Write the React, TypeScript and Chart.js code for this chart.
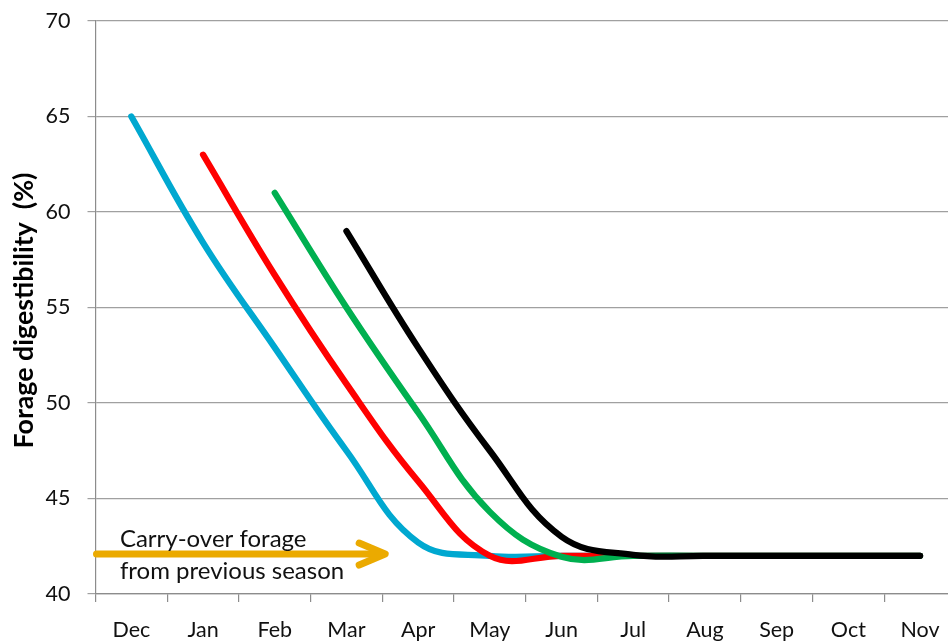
import React, { useEffect, useRef } from "react";
import { Chart, registerables } from "chart.js";

Chart.register(...registerables);

// Months (Dec .. Nov) — category labels for the x axis
const MONTHS = ["Dec", "Jan", "Feb", "Mar", "Apr", "May", "Jun", "Jul", "Aug", "Sep", "Oct", "Nov"];

// Forage digestibility (%) per month; null = series not yet started
const BLUE = [65, 58.4, 52.9, 47.5, 42.7, 42, 42, 42, 42, 42, 42, 42];
const RED = [null, 63, 56.7, 51.0, 45.9, 42.0, 42, 42, 42, 42, 42, 42];
const GREEN = [null, null, 61, 55, 49.5, 44.3, 41.95, 42, 42, 42, 42, 42];
const BLACK = [null, null, null, 59, 52.9, 47.5, 43.0, 42.05, 42, 42, 42, 42];

// Y axis ticks
const Y_MIN = 40;
const Y_MAX = 70;
const Y_STEP = 5;

const Y_TITLE = "Forage digestibility  (%)";

// Annotation
const NOTE_LINES = ["Carry-over forage", "from previous season"];
const ARROW_FROM = -0.5; // month index
const ARROW_TO = 3.54; // month index
const ARROW_LEVEL = 42.09; // digestibility level
const NOTE_X = -0.16; // month index

const FONT = "Lato, 'Open Sans', sans-serif";

const toPoints = (arr: (number | null)[]) =>
  arr
    .map((v, i) => (v === null ? null : { x: i, y: v }))
    .filter((p) => p !== null) as { x: number; y: number }[];

const annotationPlugin = {
  id: "carryOver",
  afterDatasetsDraw(chart: any) {
    const { ctx, scales, chartArea } = chart;
    const xs = scales.x;
    const ys = scales.y;
    const y = ys.getPixelForValue(ARROW_LEVEL);
    const x0 = xs.getPixelForValue(ARROW_FROM);
    const x1 = xs.getPixelForValue(ARROW_TO);
    ctx.save();
    ctx.strokeStyle = "#EBAA00";
    ctx.lineWidth = 7;
    ctx.lineCap = "round";
    ctx.lineJoin = "round";
    ctx.beginPath();
    ctx.moveTo(x0 + 1, y);
    ctx.lineTo(x1 - 4, y);
    ctx.stroke();
    ctx.beginPath();
    ctx.moveTo(x1 - 26, y - 11);
    ctx.lineTo(x1, y);
    ctx.lineTo(x1 - 26, y + 11);
    ctx.stroke();

    const tx = xs.getPixelForValue(NOTE_X);
    ctx.fillStyle = "#111";
    ctx.font = `24px ${FONT}`;
    ctx.textAlign = "left";
    ctx.textBaseline = "alphabetic";
    ctx.fillText(NOTE_LINES[0], tx, y - 7);
    ctx.fillText(NOTE_LINES[1], tx, y + 24.5);

    // Y axis title, rotated, fitted to the reference length
    const cy = (chartArea.top + chartArea.bottom) / 2 + 3;
    ctx.translate(24, cy);
    ctx.rotate(-Math.PI / 2);
    let size = 25;
    ctx.font = `bold ${size}px ${FONT}`;
    const w = ctx.measureText(Y_TITLE).width;
    size = (size * 276) / w;
    ctx.font = `bold ${size}px ${FONT}`;
    ctx.fillStyle = "#000";
    ctx.textAlign = "center";
    ctx.textBaseline = "middle";
    ctx.fillText(Y_TITLE, 0, 0);
    ctx.restore();
  },
};

export default function App() {
  const ref = useRef<HTMLCanvasElement | null>(null);

  useEffect(() => {
    if (!ref.current) return;
    const line = (label: string, data: (number | null)[], color: string, order: number) => ({
      label,
      data: toPoints(data),
      borderColor: color,
      backgroundColor: color,
      borderWidth: 6.3,
      borderCapStyle: "round" as const,
      borderJoinStyle: "round" as const,
      pointRadius: 0,
      tension: 0.4,
      fill: false,
      order,
    });
    const chart = new Chart(ref.current, {
      type: "line",
      data: {
        datasets: [
          line("Blue", BLUE, "#00A8D0", 4),
          line("Red", RED, "#FF0000", 3),
          line("Green", GREEN, "#00B050", 2),
          line("Black", BLACK, "#000000", 1),
        ],
      },
      options: {
        responsive: false,
        animation: false,
        layout: { padding: { top: 21, right: 0, left: 0, bottom: 0 } },
        plugins: {
          legend: { display: false },
          tooltip: { enabled: false },
          title: { display: false },
        },
        scales: {
          x: {
            type: "linear",
            min: -0.5,
            max: 11.39,
            bounds: "data",
            afterBuildTicks: (scale: any) => {
              scale.ticks = MONTHS.map((_, i) => ({ value: i - 0.5 }));
            },
            afterFit: (scale: any) => {
              scale.height = 47;
              scale.paddingLeft = 0;
              scale.paddingRight = 0;
            },
            grid: {
              drawOnChartArea: false,
              drawTicks: true,
              tickLength: 8,
              color: "#8C8C8C",
              lineWidth: 1.2,
            },
            border: { color: "#8C8C8C", width: 1.2 },
            ticks: {
              autoSkip: false,
              maxRotation: 0,
              minRotation: 0,
              labelOffset: 35.85,
              padding: 15,
              color: "#111",
              font: { family: FONT, size: 21.5 },
              callback: (v: any) => MONTHS[Math.round(Number(v) + 0.5)] ?? "",
            },
          },
          y: {
            type: "linear",
            min: Y_MIN,
            max: Y_MAX,
            afterFit: (scale: any) => {
              scale.width = 95.5;
              scale.paddingTop = 0;
              scale.paddingBottom = 0;
            },
            grid: {
              color: "#A0A0A0",
              lineWidth: 1.2,
              drawTicks: true,
              tickLength: 8,
            },
            border: { color: "#8C8C8C", width: 1.2 },
            ticks: {
              stepSize: Y_STEP,
              padding: 17,
              color: "#111",
              font: { family: FONT, size: 21.5 },
            },
            title: { display: false },
          },
        },
      },
      plugins: [annotationPlugin],
    });
    return () => chart.destroy();
  }, []);

  return (
    <div style={{ position: "absolute", left: 0, top: 0, width: 948, height: 641, background: "#fff" }}>
      <canvas ref={ref} width={948} height={641} style={{ display: "block" }} />
    </div>
  );
}
